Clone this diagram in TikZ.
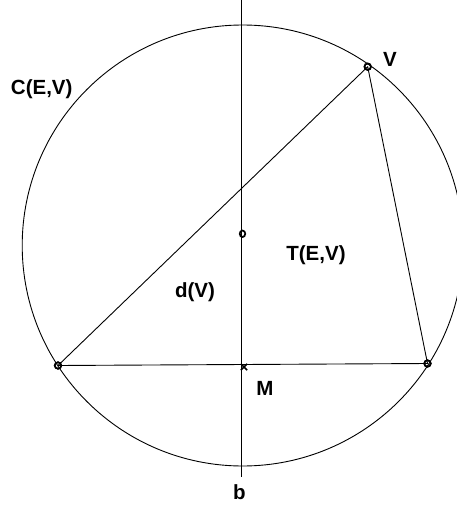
\documentclass[tikz,border=0pt]{standalone}
\usepackage{fontspec}
\setmainfont{Liberation Sans}
\begin{document}
\begin{tikzpicture}[x=1pt,y=-1pt,
  lbl/.style={font=\fontsize{20.5}{24}\selectfont\bfseries, inner sep=0pt},
  ln/.style={line width=0.9pt},
  pt/.style={circle, draw, line width=1.6pt, minimum size=6.5pt, inner sep=0pt}]
\useasboundingbox (0,0) rectangle (456,505);
\coordinate (O) at (242.7,245.5);
\draw[ln] (O) circle (220.5pt);
% perpendicular bisector b
\coordinate (btop) at (241.3,0);
\coordinate (bbot) at (241.3,477);
\draw[ln] (btop) -- (bbot);
% points
\node[pt] (L) at (58,365.5) {};
\node[pt] (R) at (427.5,363.5) {};
\node[pt] (V) at (367.7,66.7) {};
\draw[ln] (L.center) -- (V.center) -- (R.center) -- (L.center);
\node[pt] at (L) {};
\node[pt] at (R) {};
\node[pt] at (V) {};
% centre marker
\node[circle, draw, line width=1.7pt, minimum size=6.5pt, inner sep=0pt, xscale=0.85] (C) at (242.5,233.8) {};
% midpoint x marker
\coordinate (Mx) at (244,367);
\draw[line width=1.5pt] ([shift={(-3.2,-3.2)}]Mx) coordinate (m1) -- ([shift={(3.2,3.2)}]Mx) coordinate (m2);
\draw[line width=1.5pt] ([shift={(-3.2,3.2)}]Mx) coordinate (m3) -- ([shift={(3.2,-3.2)}]Mx) coordinate (m4);
% labels
\node[lbl] (lC) at (41.7,89.3) {C(E,V)};
\node[lbl] (lV) at (390,59.3) {V};
\node[lbl] (lT) at (316,255) {T(E,V)};
\node[lbl] (ld) at (195,291.7) {d(V)};
\node[lbl] (lM) at (265,388) {M};
\node[lbl] (lb) at (239.3,491.7) {b};
\end{tikzpicture}
\end{document}
